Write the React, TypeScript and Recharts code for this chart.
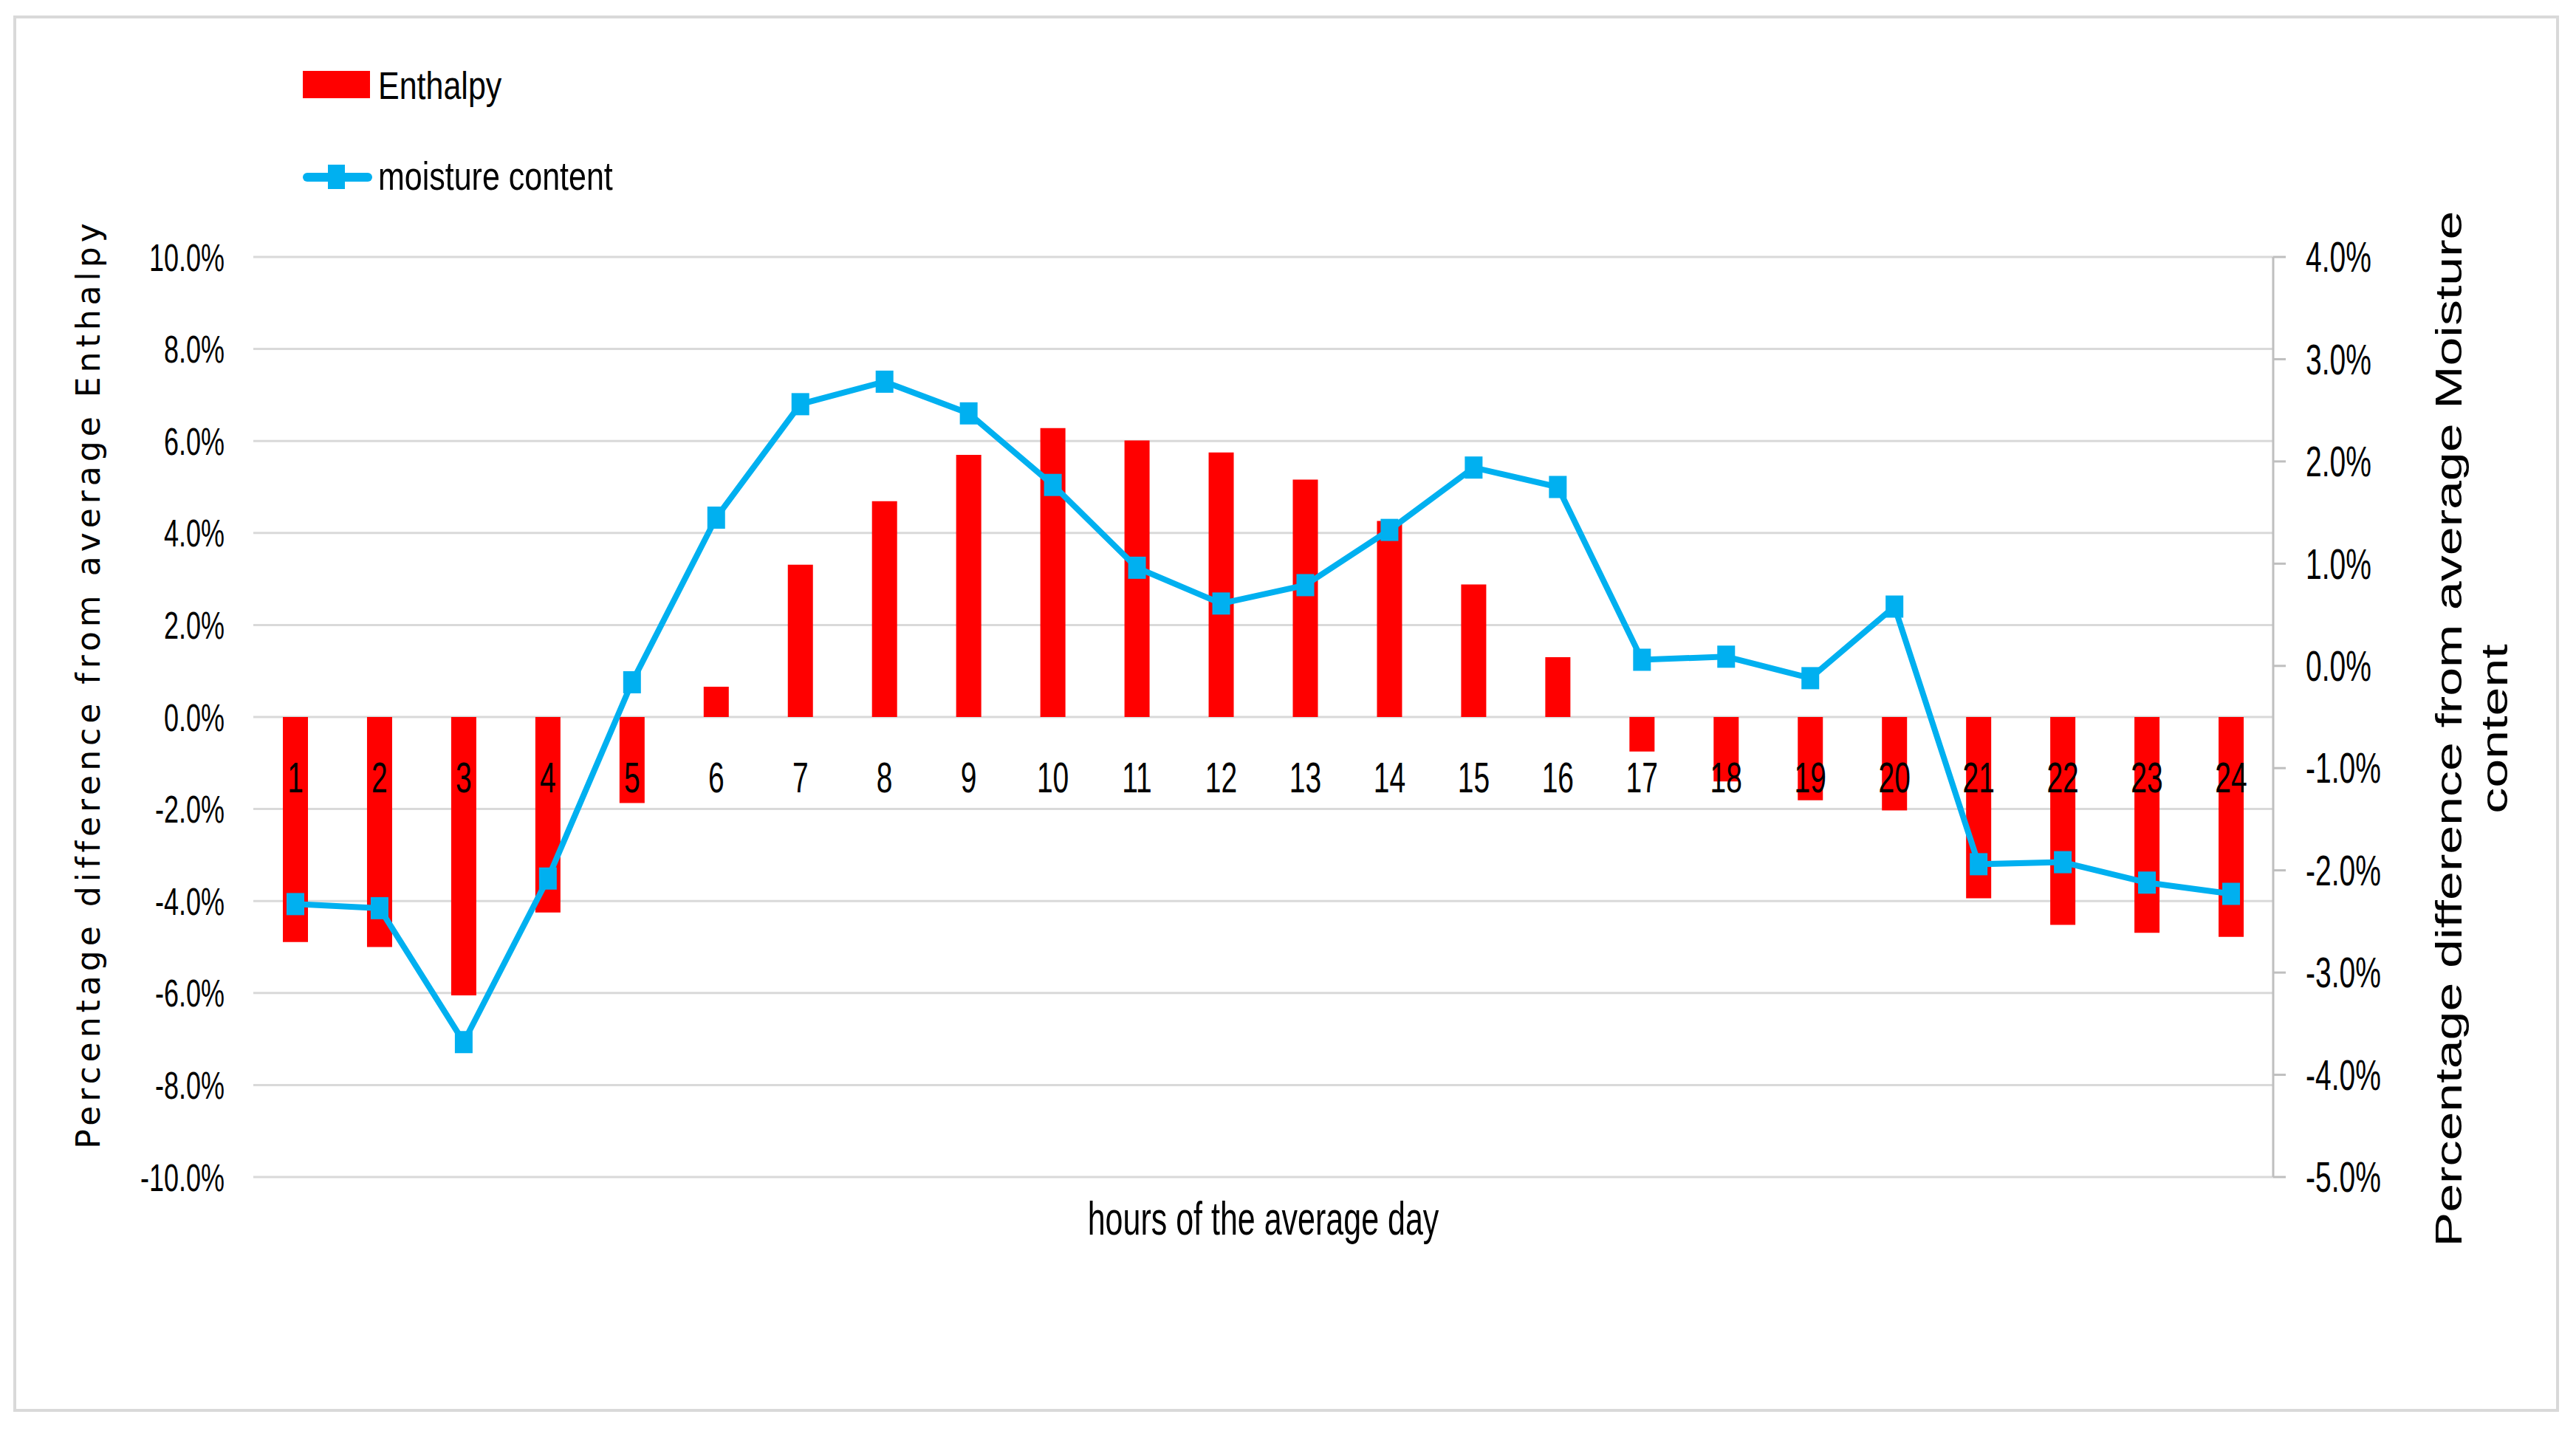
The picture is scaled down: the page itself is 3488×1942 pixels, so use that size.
import React from 'react';
import { ComposedChart, Bar, Line, XAxis, YAxis, CartesianGrid, Legend, LabelList } from 'recharts';

const hours = ['1','2','3','4','5','6','7','8','9','10','11','12','13','14','15','16','17','18','19','20','21','22','23','24'];
const enthalpy = [-4.89,-5.0,-6.05,-4.25,-1.87,0.66,3.31,4.69,5.70,6.28,6.01,5.75,5.16,4.26,2.88,1.30,-0.75,-1.40,-1.81,-2.03,-3.94,-4.52,-4.69,-4.78];
const moisture = [-2.33,-2.37,-3.68,-2.08,-0.16,1.45,2.56,2.78,2.47,1.77,0.96,0.61,0.79,1.33,1.94,1.75,0.06,0.09,-0.12,0.58,-1.94,-1.92,-2.12,-2.23];
const leftTicks = [-10,-8,-6,-4,-2,0,2,4,6,8,10];
const rightTicks = [-5,-4,-3,-2,-1,0,1,2,3,4];

const data = hours.map((h, i) => ({ hour: h, enthalpy: enthalpy[i], moisture: moisture[i] }));

const SANS = "'Liberation Sans', Arial, sans-serif";
const DEJAVU = "'DejaVu Sans', Verdana, sans-serif";
const K = 1.45;
const RED = '#FF0000';
const BLUE = '#00B0F0';
const GRID = '#d9d9d9';

const fmt = (v: number) => `${v.toFixed(1)}%`;

function SText({ x, y, size, k = K, anchor = 'middle', family = SANS, children }: any) {
  return (
    <text transform={`translate(${x},${y}) scale(1,${k})`} x={0} y={0} textAnchor={anchor}
      fontSize={size} fontFamily={family} fill="#000">{children}</text>
  );
}

const LeftTick = (p: any) => (
  <SText x={p.x} y={p.y + 0.358 * 36 * K} size={36} anchor="end">{fmt(p.payload.value)}</SText>
);
const RightTick = (p: any) => (
  <SText x={p.x} y={p.y + 0.358 * 39 * K} size={39} anchor="start">{fmt(p.payload.value)}</SText>
);

const HourLabel = (p: any) => {
  const vb = p.viewBox || {};
  const x = vb.x ?? p.x;
  const y = vb.y ?? p.y;
  if (x == null || y == null) return null;
  return <SText x={x} y={y + 102} size={39}>{p.value}</SText>;
};

const Marker = (p: any) => {
  if (p.cx == null || p.cy == null) return null;
  return <rect key={`m${p.index}`} x={p.cx - 12} y={p.cy - 15} width={24} height={30} fill={BLUE} />;
};

const XTitle = (p: any) => {
  const vb = p.viewBox;
  return <SText x={vb.x + vb.width / 2} y={vb.y + 78} size={43}>hours of the average day</SText>;
};

const LeftTitle = (p: any) => {
  const vb = p.viewBox;
  const cx = vb.x - 8;
  const cy = vb.y + vb.height / 2 - 45;
  return (
    <text transform={`translate(${cx},${cy}) rotate(-90)`} x={0} y={0} textAnchor="middle"
      fontSize={44} fontFamily={DEJAVU} letterSpacing={6} fill="#000">
      Percentage difference from average Enthalpy
    </text>
  );
};

const RightTitle = (p: any) => {
  const vb = p.viewBox;
  const cy = vb.y + vb.height / 2 + 16;
  return (
    <g>
      <text transform={`translate(${vb.x + 255},${cy}) rotate(-90) scale(1.4,1)`} x={0} y={0}
        textAnchor="middle" fontSize={50} fontFamily={SANS} fill="#000">
        Percentage difference from average Moisture
      </text>
      <text transform={`translate(${vb.x + 317},${cy}) rotate(-90) scale(1.4,1)`} x={0} y={0}
        textAnchor="middle" fontSize={50} fontFamily={SANS} fill="#000">
        content
      </text>
    </g>
  );
};

const LegendBox = () => (
  <svg width={600} height={230} style={{ display: 'block' }}>
    <rect x={30} y={36} width={91} height={37} fill={RED} />
    <SText x={132} y={74} size={43} k={1.2} anchor="start">Enthalpy</SText>
    <line x1={36} y1={180} x2={118} y2={180} stroke={BLUE} strokeWidth={12} strokeLinecap="round" />
    <rect x={64} y={163} width={23} height={33} fill={BLUE} />
    <SText x={132} y={197} size={43} k={1.25} anchor="start">moisture content</SText>
  </svg>
);

export default function App() {
  return (
    <div style={{ position: 'absolute', left: 0, top: 0, width: 3488, height: 1942, background: '#fff' }}>
      <div style={{ position: 'absolute', left: 18, top: 21, width: 3447, height: 1891, boxSizing: 'border-box', border: `4px solid ${GRID}` }} />
      <div style={{ position: 'absolute', left: 0, top: 0 }}>
        <ComposedChart width={3488} height={1942} data={data}
          margin={{ top: 348, right: 210, bottom: 228, left: 143 }}>
          <CartesianGrid yAxisId="left" vertical={false} stroke={GRID} strokeWidth={3} />
          <XAxis dataKey="hour" type="category" height={120} tick={false} axisLine={false} tickLine={false}
            label={XTitle} />
          <YAxis yAxisId="left" orientation="left" width={200} domain={[-10, 10]} ticks={leftTicks}
            interval={0} axisLine={false} tickLine={false} tickSize={0} tickMargin={39}
            tick={LeftTick} label={LeftTitle} />
          <YAxis yAxisId="right" orientation="right" width={200} domain={[-5, 4]} ticks={rightTicks}
            interval={0} axisLine={{ stroke: '#bfbfbf', strokeWidth: 3 }}
            tickLine={{ stroke: '#bfbfbf', strokeWidth: 3 }} tickSize={17} tickMargin={27}
            tick={RightTick} label={RightTitle} />
          <Legend layout="vertical" align="center" verticalAlign="middle" content={LegendBox}
            wrapperStyle={{ left: 380, top: 60, width: 600, height: 230 }} />
          <Bar yAxisId="left" dataKey="enthalpy" name="Enthalpy" fill={RED} barSize={34}
            isAnimationActive={false} />
          <Line yAxisId="left" dataKey={() => 0} stroke="none" dot={false} activeDot={false}
            legendType="none" isAnimationActive={false}>
            <LabelList dataKey="hour" content={HourLabel} />
          </Line>
          <Line yAxisId="right" dataKey="moisture" name="moisture content" stroke={BLUE} strokeWidth={8}
            dot={Marker} activeDot={false} isAnimationActive={false} />
        </ComposedChart>
      </div>
    </div>
  );
}
